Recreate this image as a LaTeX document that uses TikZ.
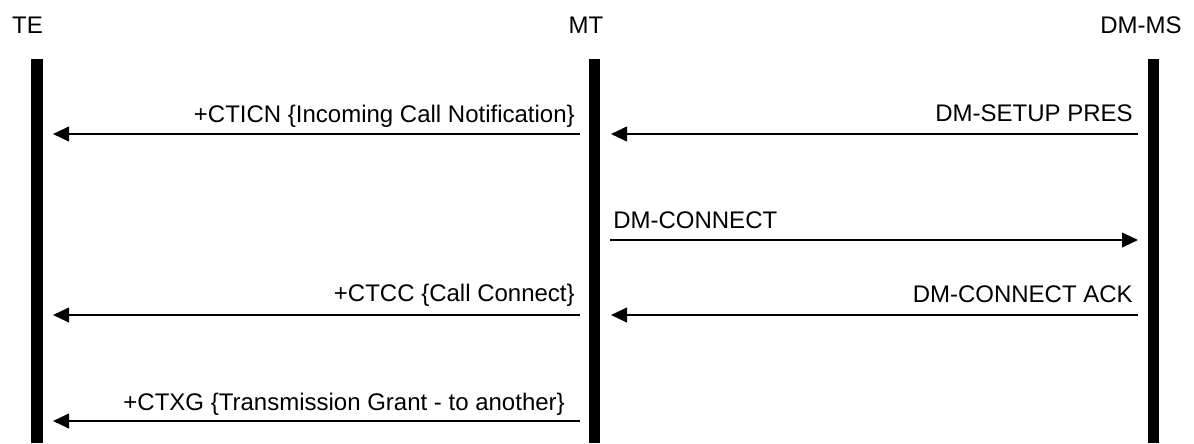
\documentclass[tikz,border=0pt]{standalone}
\usepackage{fontspec}
\setmainfont{Liberation Sans}
\usetikzlibrary{arrows.meta}
\begin{document}
\begin{tikzpicture}[x=0.75pt,y=-0.75pt,
  life/.style={line width=8.6pt},
  msg/.style={line width=1.5pt,-{Triangle[length=12pt,width=11pt]}},
  lbl/.style={inner sep=0pt,font=\fontsize{18pt}{21pt}\selectfont},
  ttl/.style={inner sep=0pt,anchor=base,font=\fontsize{18pt}{21pt}\selectfont}]
\useasboundingbox (0,0) rectangle (1194,443);
% titles
\node[ttl] (teT) at (27.5,33) {TE};
\node[ttl] (mtT) at (586,33) {MT};
\node[ttl] (dmT) at (1141,33) {DM-MS};
% lifelines
\coordinate (teTop) at (37,59);   \coordinate (teBot) at (37,443);
\coordinate (mtTop) at (594.5,59); \coordinate (mtBot) at (594.5,443);
\coordinate (dmTop) at (1153.5,59); \coordinate (dmBot) at (1153.5,443);
\draw[life] (teTop) -- (teBot);
\draw[life] (mtTop) -- (mtBot);
\draw[life] (dmTop) -- (dmBot);
% message endpoints
\coordinate (a1s) at (580,134);  \coordinate (a1e) at (53,134);
\coordinate (b1s) at (1138,134); \coordinate (b1e) at (611,134);
\coordinate (c1s) at (610,240);  \coordinate (c1e) at (1138,240);
\coordinate (a2s) at (580,315);  \coordinate (a2e) at (53,315);
\coordinate (b2s) at (1138,315); \coordinate (b2e) at (611,315);
\coordinate (a3s) at (580,421);  \coordinate (a3e) at (53,421);
\draw[msg] (a1s) -- (a1e);
\draw[msg] (b1s) -- (b1e);
\draw[msg] (c1s) -- (c1e);
\draw[msg] (a2s) -- (a2e);
\draw[msg] (b2s) -- (b2e);
\draw[msg] (a3s) -- (a3e);
% labels
\node[lbl,anchor=base east] (l1) at (575,122) {+CTICN \{Incoming Call Notification\}};
\node[lbl,anchor=base east] (l2) at (1133,121) {DM-SETUP PRES};
\node[lbl,anchor=base west] (l3) at (613,228) {DM-CONNECT};
\node[lbl,anchor=base east] (l4) at (575,301) {+CTCC \{Call Connect\}};
\node[lbl,anchor=base east] (l5) at (1133,302) {DM-CONNECT ACK};
\node[lbl,anchor=base east] (l6) at (565,410) {+CTXG \{Transmission Grant - to another\}};
\end{tikzpicture}
\end{document}
